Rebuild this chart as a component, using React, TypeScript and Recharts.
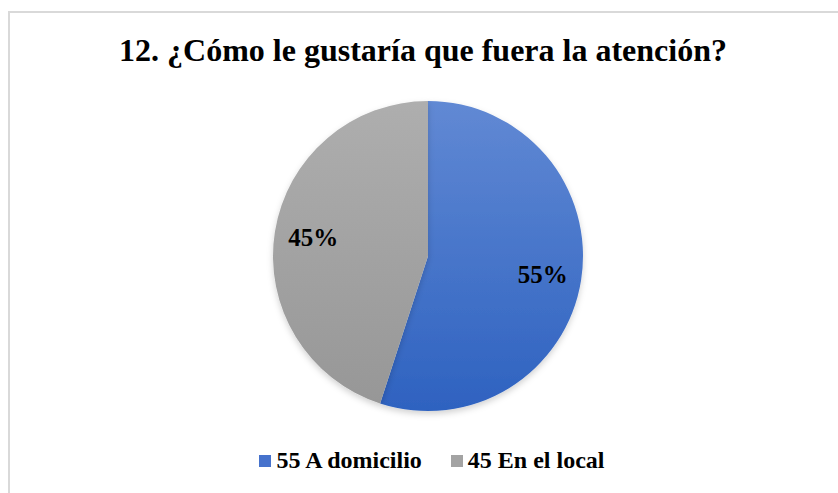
import { PieChart, Pie, Cell, Legend } from "recharts";

const categories = ["A domicilio", "En el local"];
const counts = [55, 45];
const percentLabels = ["55%", "45%"];

const title = "12. ¿Cómo le gustaría que fuera la atención?";

const data = categories.map((name, i) => ({ name, value: counts[i], pct: percentLabels[i] }));

const fills = ["url(#blueGrad)", "url(#grayGrad)"];
const legendColors = ["#4672CC", "#A3A3A3"];

const serif = "'Liberation Serif', 'Times New Roman', serif";
const RADIAN = Math.PI / 180;

function renderLabel(props: any) {
  const { cx, cy, midAngle, outerRadius, index } = props;
  const r = outerRadius * 0.75;
  const x = cx + r * Math.cos(-midAngle * RADIAN);
  const y = cy + r * Math.sin(-midAngle * RADIAN);
  return (
    <text
      x={x}
      y={y}
      textAnchor="middle"
      dominantBaseline="central"
      fill="#000"
      style={{ fontFamily: serif, fontWeight: 700, fontSize: 25 }}
    >
      {data[index].pct}
    </text>
  );
}

function renderLegend() {
  return (
    <div style={{ display: "flex", justifyContent: "center", gap: 29, fontFamily: serif, fontWeight: 700, fontSize: 24, color: "#000" }}>
      {data.map((d, i) => (
        <div key={d.name} style={{ display: "flex", alignItems: "center" }}>
          <span style={{ width: 12, height: 12, background: legendColors[i], marginRight: 5, display: "inline-block" }} />
          <span>{`${d.value} ${d.name}`}</span>
        </div>
      ))}
    </div>
  );
}

export default function App() {
  return (
    <div style={{ position: "absolute", left: 0, top: 0, width: 838, height: 493, background: "#fff", overflow: "hidden" }}>
      <div
        style={{
          position: "absolute",
          left: 8,
          top: 11,
          width: 900,
          height: 600,
          borderTop: "2px solid #d9d9d9",
          borderLeft: "2px solid #d9d9d9",
        }}
      />
      <div
        style={{
          position: "absolute",
          left: 0,
          top: 32,
          width: 846,
          textAlign: "center",
          fontFamily: serif,
          fontWeight: 700,
          fontSize: 32,
          color: "#000",
        }}
      >
        {title}
      </div>
      <div style={{ position: "absolute", left: 0, top: 0 }}>
        <PieChart width={838} height={493} margin={{ top: 0, right: 0, bottom: 0, left: 0 }}>
          <defs>
            <linearGradient id="blueGrad" x1="0" y1="0" x2="0" y2="1">
              <stop offset="0%" stopColor="#6189D4" />
              <stop offset="100%" stopColor="#2E62C0" />
            </linearGradient>
            <linearGradient id="grayGrad" x1="0" y1="0" x2="0" y2="1">
              <stop offset="0%" stopColor="#AEAEAE" />
              <stop offset="100%" stopColor="#979797" />
            </linearGradient>
            <filter id="pieShadow" x="-10%" y="-10%" width="120%" height="125%">
              <feDropShadow dx="0" dy="3" stdDeviation="3" floodColor="#000" floodOpacity="0.18" />
            </filter>
          </defs>
          <Pie
            data={data}
            dataKey="value"
            nameKey="name"
            cx={428}
            cy={256}
            outerRadius={155}
            startAngle={90}
            endAngle={-270}
            stroke="none"
            label={renderLabel}
            labelLine={false}
            isAnimationActive={false}
            style={{ filter: "url(#pieShadow)" }}
          >
            {data.map((d, i) => (
              <Cell key={d.name} fill={fills[i]} />
            ))}
          </Pie>
          <Legend
            content={renderLegend}
            wrapperStyle={{ position: "absolute", top: 447, left: 0, width: 864 }}
          />
        </PieChart>
      </div>
    </div>
  );
}
